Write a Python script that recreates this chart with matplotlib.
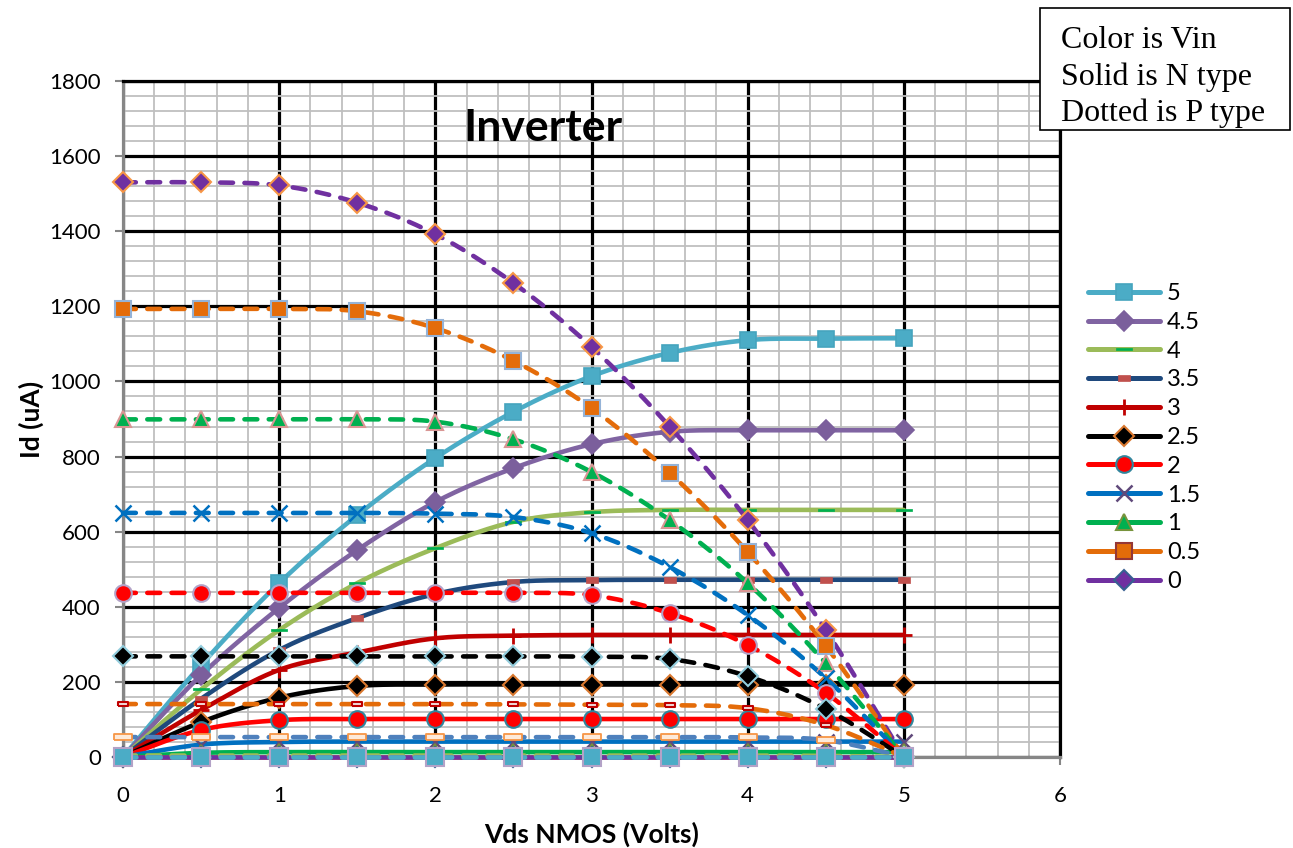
import numpy as np
import matplotlib
matplotlib.use("Agg")
import matplotlib.pyplot as plt
from matplotlib.patches import Rectangle

# ---------------- data ----------------
vds = [0, 0.5, 1, 1.5, 2, 2.5, 3, 3.5, 4, 4.5, 5]
vin_labels = ['5', '4.5', '4', '3.5', '3', '2.5', '2', '1.5', '1', '0.5', '0']

# N type (solid), Id in uA
nmos_5   = [0, 245, 463, 644, 796, 919, 1014, 1076, 1110, 1114, 1115]
nmos_4_5 = [0, 218, 397, 551, 679, 769, 833, 866, 870, 870, 870]
nmos_4   = [0, 180, 338, 463, 556, 626, 652, 658, 658, 658, 658]
nmos_3_5 = [0, 155, 285, 370, 434, 466, 471, 472, 472, 472, 472]
nmos_3   = [0, 125, 232, 278, 316, 323, 325, 325, 325, 325, 325]
nmos_2_5 = [0, 93, 158, 189, 193, 193, 193, 193, 193, 193, 193]
nmos_2   = [0, 72, 98, 101, 101, 101, 101, 101, 101, 101, 101]
nmos_1_5 = [0, 33, 40, 41, 41, 41, 41, 41, 41, 41, 41]
nmos_1   = [0, 11, 13, 13, 13, 13, 13, 13, 13, 13, 13]
nmos_0_5 = [0, 0, 0, 0, 0, 0, 0, 0, 0, 0, 0]
nmos_0   = [0, 0, 0, 0, 0, 0, 0, 0, 0, 0, 0]

# P type (dotted), Id in uA
pmos_0   = [1530, 1530, 1522, 1476, 1392, 1262, 1092, 880, 631, 338, 0]
pmos_0_5 = [1193, 1193, 1193, 1187, 1142, 1055, 929, 757, 546, 296, 0]
pmos_1   = [899, 899, 899, 899, 893, 846, 759, 631, 463, 250, 0]
pmos_1_5 = [650, 650, 650, 650, 648, 639, 596, 506, 378, 210, 0]
pmos_2   = [437, 437, 437, 437, 437, 437, 431, 383, 298, 171, 0]
pmos_2_5 = [268, 268, 268, 268, 268, 268, 267, 261, 215, 128, 0]
pmos_3   = [141, 141, 141, 141, 141, 140, 139, 138, 130, 85, 0]
pmos_3_5 = [53, 53, 53, 53, 53, 53, 53, 53, 52, 45, 0]
pmos_4   = [4, 4, 4, 4, 4, 4, 4, 4, 4, 3, 0]
pmos_4_5 = [0, 0, 0, 0, 0, 0, 0, 0, 0, 0, 0]
pmos_5   = [0, 0, 0, 0, 0, 0, 0, 0, 0, 0, 0]

x_ticks = [0, 1, 2, 3, 4, 5, 6]
y_ticks = [0, 200, 400, 600, 800, 1000, 1200, 1400, 1600, 1800]


def smooth(x, y, n=24):
    """Catmull-Rom smoothing through the data points (like Excel smoothed lines)."""
    pts = np.column_stack([x, y]).astype(float)
    P = np.vstack([pts[0], pts, pts[-1]])
    out = []
    t = np.linspace(0, 1, n, endpoint=False)[:, None]
    for i in range(1, len(P) - 2):
        p0, p1, p2, p3 = P[i - 1], P[i], P[i + 1], P[i + 2]
        seg = 0.5 * ((2 * p1) + (-p0 + p2) * t + (2 * p0 - 5 * p1 + 4 * p2 - p3) * t ** 2
                     + (-p0 + 3 * p1 - 3 * p2 + p3) * t ** 3)
        out.append(seg)
    out.append(pts[-1:])
    s = np.vstack(out)
    return s[:, 0], s[:, 1]


def rect_marker(aspect):
    h = 1.0 / aspect
    return [(-1, -h), (1, -h), (1, h), (-1, h), (-1, -h)]


plt.rcParams['font.family'] = ['Lato', 'DejaVu Sans']

fig = plt.figure(figsize=(12.93, 8.48), dpi=100)
L, R, B, T = 123, 1060, 757, 81
W, H = 1293, 848
ax = fig.add_axes([L / W, 1 - B / H, (R - L) / W, (B - T) / H])
ax.set_xlim(0, 6)
ax.set_ylim(0, 1800)

ax.set_xticks(x_ticks)
ax.set_yticks(y_ticks)
ax.set_xticks(np.arange(0, 6.001, 0.2), minor=True)
ax.set_yticks(np.arange(0, 1800.1, 40), minor=True)
ax.grid(which='minor', color='#BFBFBF', lw=1.3, zorder=0)
ax.grid(which='major', color='black', lw=2.3, zorder=0.5)
ax.set_axisbelow(True)
ax.tick_params(which='minor', length=0)
ax.tick_params(which='major', length=6, width=1.5, color='#868686', labelsize=16,
               direction='out')
ax.tick_params(axis='y', pad=10)
ax.tick_params(axis='x', pad=15)
for s in ['left', 'bottom']:
    ax.spines[s].set_color('#868686')
    ax.spines[s].set_linewidth(2.3)
for s in ['top', 'right']:
    ax.spines[s].set_color('black')
    ax.spines[s].set_linewidth(2.3)

LW = 3.3
MS = 12

solid = [
    (nmos_5,   '#4BACC6', dict(marker='s', mfc='#4BACC6', mec='#45A4BE', mew=1.2, ms=MS)),
    (nmos_4_5, '#8064A2', dict(marker='D', mfc='#7B5F9C', mec='#7B5F9C', mew=1.2, ms=MS - 1.5)),
    (nmos_4,   '#9BBB59', dict(marker=rect_marker(6), mfc='#00B050', mec='#00B050', mew=0.5, ms=12)),
    (nmos_3_5, '#1F497D', dict(marker=rect_marker(2), mfc='#C0504D', mec='#C0504D', mew=0.5, ms=8)),
    (nmos_3,   '#C00000', dict(marker='+', mfc='#C00000', mec='#C00000', mew=2, ms=MS)),
    (nmos_2_5, '#000000', dict(marker='D', mfc='black', mec='#D9782F', mew=1.5, ms=MS - 1.5)),
    (nmos_2,   '#FF0000', dict(marker='o', mfc='#FF0000', mec='#31859C', mew=1.5, ms=MS)),
    (nmos_1_5, '#0070C0', dict(marker='x', mfc='#604A7B', mec='#604A7B', mew=1.8, ms=MS - 1)),
    (nmos_1,   '#00B050', dict(marker='^', mfc='#00B050', mec='#77933C', mew=1.5, ms=MS)),
    (nmos_0_5, '#E36C09', dict(marker='s', mfc='#E36C09', mec='#953735', mew=1.5, ms=MS)),
    (nmos_0,   '#7030A0', dict(marker='D', mfc='#7030A0', mec='#376092', mew=1.5, ms=MS - 1.5)),
]

handles = []
for (vals, col, mk), lab in zip(solid, vin_labels):
    xs, ys = smooth(vds, vals)
    ax.plot(xs, ys, color=col, lw=LW, solid_capstyle='round', zorder=2.6, clip_on=False)
    ax.plot(vds, vals, linestyle='none', zorder=2.7, clip_on=False, **mk)
    h, = ax.plot([], [], color=col, lw=LW + 0.3, solid_capstyle='round', **mk)
    handles.append(h)

dotted = [
    (pmos_0,   '#7030A0', dict(marker='D', mfc='#7030A0', mec='#F79646', mew=1.5, ms=MS - 1.5)),
    (pmos_0_5, '#E46C0A', dict(marker='s', mfc='#E46C0A', mec='#95B3D7', mew=1.5, ms=MS)),
    (pmos_1,   '#00B050', dict(marker='^', mfc='#00B050', mec='#D99694', mew=1.5, ms=MS)),
    (pmos_1_5, '#0070C0', dict(marker='x', mfc='#0070C0', mec='#0070C0', mew=1.8, ms=MS)),
    (pmos_2,   '#FF0000', dict(marker='o', mfc='#FF0000', mec='#B3A2C7', mew=1.5, ms=MS)),
    (pmos_2_5, '#000000', dict(marker='D', mfc='black', mec='#93CDDD', mew=1.5, ms=MS - 1.5)),
    (pmos_3,   '#E46C0A', dict(marker=rect_marker(2.2), mfc='#F2DCDB', mec='#C00000', mew=1.5, ms=7.5)),
    (pmos_3_5, '#4F81BD', dict(marker=rect_marker(3.5), mfc='#FDEADA', mec='#F79646', mew=1.3, ms=13)),
    (pmos_4,   '#9BBB59', dict(marker='none')),
    (pmos_4_5, '#8064A2', dict(marker='none')),
    (pmos_5,   '#4BACC6', dict(marker='s', mfc='#4BACC6', mec='#B3A2C7', mew=1.5, ms=MS + 0.5)),
]
for vals, col, mk in dotted:
    xs, ys = smooth(vds, vals)
    ax.plot(xs, ys, color=col, lw=LW, linestyle=(0, (2.8, 2.5)), dash_capstyle='round',
            zorder=3, clip_on=False)
    ax.plot(vds, vals, linestyle='none', zorder=3.1, clip_on=False, **mk)

ax.set_xlabel('Vds NMOS (Volts)', fontsize=19, fontweight='bold', labelpad=11)
ax.set_ylabel('Id (uA)', fontsize=19, fontweight='bold', labelpad=4)

fig.text(543 / W, 1 - 128 / H, 'Inverter', fontsize=32, fontweight='bold',
         ha='center', va='center')

leg = fig.legend(handles=handles, labels=vin_labels, loc='upper left',
                 bbox_to_anchor=(1088 / W, 1 - 283 / H), frameon=False,
                 fontsize=17, handlelength=3.05, handletextpad=0.3,
                 labelspacing=0.33, borderpad=0, borderaxespad=0, numpoints=1)

# annotation box
fig.patches.append(Rectangle((1040 / W, 1 - 130 / H), 250 / W, 122 / H,
                             transform=fig.transFigure, facecolor='white',
                             edgecolor='black', lw=1.2, zorder=10))
fig.text(1061 / W, 1 - 77 / H, 'Color is Vin\nSolid is N type\nDotted is P type',
         fontsize=23, family=['Liberation Serif'], va='center', ha='left',
         linespacing=1.33, zorder=11)

fig.savefig('out.png', dpi=100)
